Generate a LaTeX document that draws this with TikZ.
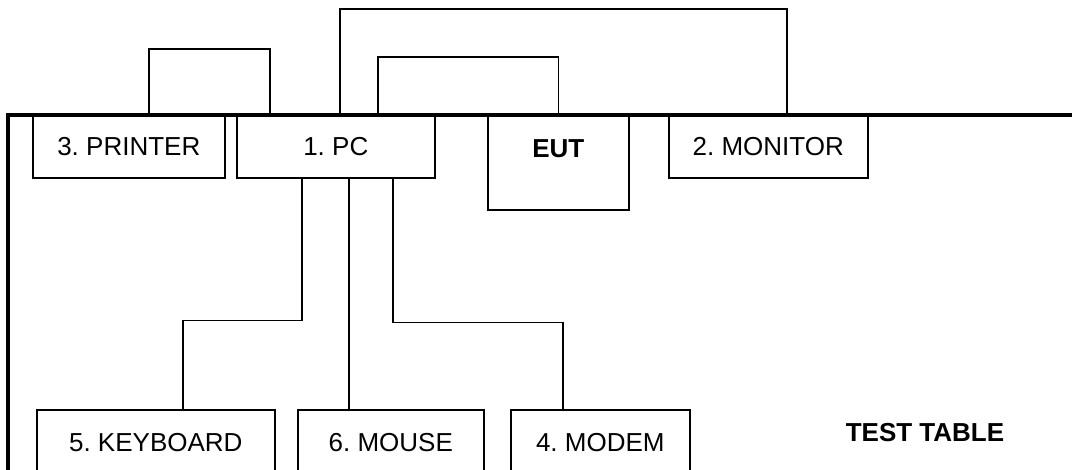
\documentclass[tikz,border=0pt]{standalone}
\usepackage{fontspec}
\setmainfont{Liberation Sans}
\usetikzlibrary{calc}
\frenchspacing

\begin{document}
\begin{tikzpicture}[x=1pt, y=-1pt,
        device/.style={draw, rectangle, line width=1.6pt, inner sep=0pt, minimum height=62pt, font=\fontsize{26}{30}\selectfont},
        cable/.style={line width=1.6pt},
        tableedge/.style={line width=3.5pt}]
    \useasboundingbox (0,0) rectangle (1072,470);
    \clip (0,0) rectangle (1072,470);
        % units along the back edge
        \node[device, anchor=north west, minimum width=192pt] (printer) at (32,115) {3. PRINTER};
        \node[device, anchor=north west, minimum width=198pt] (pc) at (236,115) {1. PC};
        \node[device, anchor=north west, minimum width=141pt, text height=42pt, text depth=52pt, font=\fontsize{26}{30}\selectfont\bfseries] (eut) at (487,115) {EUT};
        \node[device, anchor=north west, minimum width=199pt] (monitor) at (668,115) {2. MONITOR};
        % units at the front
        \node[device, anchor=north west, minimum width=238pt, minimum height=66pt] (keyboard) at (36,409) {5. KEYBOARD};
        \node[device, anchor=north west, minimum width=186pt, minimum height=66pt] (mouse) at (297,409) {6. MOUSE};
        \node[device, anchor=north west, minimum width=179pt, minimum height=66pt] (modem) at (510,409) {4. MODEM};
        \node[font=\fontsize{26}{30}\selectfont\bfseries] (tablelabel) at (925,433) {TEST TABLE};
        % cables over the back
        \draw[cable] (printer.north) ++(20,0) -- ++(0,-66) -| ($(pc.north west)+(34,0)$);
        \draw[cable] (pc.north west) ++(104,0) -- ++(0,-106) -| ($(monitor.north west)+(119,0)$);
        \draw[cable] (pc.north west) ++(142,0) -- ++(0,-58) -| (eut.north);
        % cables to the front
        \draw[cable] (pc.south) ++(-34,0) -- ++(0,142) -| ($(keyboard.north)+(27,0)$);
        \draw[cable] ($(pc.south)+(13,0)$) coordinate (mousecable) -- (mousecable |- mouse.north);
        \draw[cable] (pc.south) ++(57,0) -- ++(0,144) -| ($(modem.north)+(-37.5,0)$);
        % table edge
        \draw[tableedge] (1080,115) -- (8,115) -- (8,480);
\end{tikzpicture}
\end{document}
